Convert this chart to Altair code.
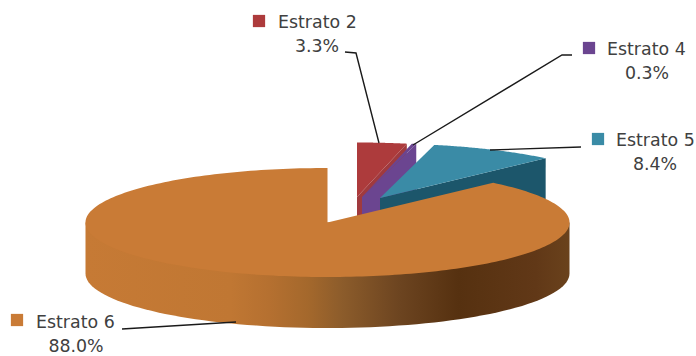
import numpy as np
import altair as alt

# Shares of each stratum, in percent, in clockwise drawing order
names = ["Estrato 2", "Estrato 4", "Estrato 5", "Estrato 6"]
shares = [3.3, 0.3, 8.4, 88.0]
share_labels = ["3.3%", "0.3%", "8.4%", "88.0%"]

# Pie geometry in page pixels
RX, RY, DEPTH = 242, 54.5, 51
APEX = {
    "Estrato 2": (357, 197),
    "Estrato 4": (362, 197),
    "Estrato 5": (380, 198),
    "Estrato 6": (327.5, 222.5),
}
TOP = {"Estrato 2": "#ad3b3c", "Estrato 4": "#6b4590", "Estrato 5": "#3a8ba6", "Estrato 6": "#c97b36"}
CUT = {"Estrato 2": "#a03a3e", "Estrato 4": "#6b4590", "Estrato 5": "#1c566b"}

# Legend and label layout
SWATCH = {"Estrato 2": (259, 21), "Estrato 4": (589, 48), "Estrato 5": (598, 139), "Estrato 6": (17, 320)}
NAME_POS = {"Estrato 2": (278, 23), "Estrato 4": (607, 50), "Estrato 5": (616, 141), "Estrato 6": (36, 323)}
VALUE_POS = {"Estrato 2": (317, 47), "Estrato 4": (647, 74), "Estrato 5": (655, 165), "Estrato 6": (76, 347)}
LEADERS = {
    "Estrato 2": [(345, 52), (356, 53), (379, 143)],
    "Estrato 4": [(572, 55), (562, 55), (413, 145)],
    "Estrato 5": [(581, 147), (490, 150)],
    "Estrato 6": [(122, 329), (236, 322)],
}

W, H = 696, 356
x_px = alt.Scale(domain=[0, W], range=[0, W], zero=False, nice=False)
y_px = alt.Scale(domain=[0, H], range=[0, H], zero=False, nice=False)
projection = alt.Projection(type="identity", scale=1, translate=[0, 0])


def rim(apex, a0, a1, n=80, drop=0):
    """Points along the elliptical rim, angles in degrees clockwise from twelve o'clock."""
    t = np.radians(np.linspace(a0, a1, n))
    return [[float(apex[0] + RX * np.sin(v)), float(apex[1] - RY * np.cos(v) + drop)] for v in t]


def shape(ring, **mark):
    ring = list(ring) + [ring[0]]
    feature = {"type": "Feature", "properties": {}, "geometry": {"type": "Polygon", "coordinates": [ring]}}
    return alt.Chart(alt.Data(values=[feature])).mark_geoshape(stroke=None, **mark).project(**projection.to_dict())


# Start and end angle of every slice, taken from its share
edges = np.concatenate([[0], np.cumsum(shares)]) * 3.6
span = {n: (float(edges[i]), float(edges[i + 1])) for i, n in enumerate(names)}

layers = []

# Pulled-out slices, back to front: cut face first, then top face
for n in names[:3]:
    a0, a1 = span[n]
    ax = APEX[n]
    end = rim(ax, a1, a1, 1)[0]
    cut = [list(ax), end, [end[0], end[1] + DEPTH], [ax[0], ax[1] + DEPTH]]
    layers.append(shape(cut, fill=CUT[n]))
    layers.append(shape([list(ax)] + rim(ax, a0, a1), fill=TOP[n]))

# Main slice: outer wall with a shaded sweep, running under the top face to avoid a seam
a0, a1 = span["Estrato 6"]
ax = APEX["Estrato 6"]
wall = [[ax[0] - RX, ax[1]], [ax[0] + RX, ax[1]]] + rim(ax, 90, 270, drop=DEPTH)
wall_fill = alt.Gradient(
    gradient="linear", x1=0, y1=0, x2=1, y2=0,
    stops=[
        alt.GradientStop(offset=0.00, color="#c67a35"),
        alt.GradientStop(offset=0.30, color="#c07733"),
        alt.GradientStop(offset=0.38, color="#b57030"),
        alt.GradientStop(offset=0.46, color="#a4682c"),
        alt.GradientStop(offset=0.53, color="#8c5c2b"),
        alt.GradientStop(offset=0.65, color="#6c4420"),
        alt.GradientStop(offset=0.77, color="#563110"),
        alt.GradientStop(offset=0.93, color="#613817"),
        alt.GradientStop(offset=1.00, color="#6a421c"),
    ],
)
layers.append(shape(wall, fill=wall_fill))
layers.append(shape([list(ax)] + rim(ax, a0, a1, 240), fill=TOP["Estrato 6"]))

# Leader lines
leader_rows = [
    {"key": n, "order": i, "px": p[0], "py": p[1]}
    for n in names for i, p in enumerate(LEADERS[n])
]
layers.append(
    alt.Chart(alt.Data(values=leader_rows)).mark_line(color="#1a1a1a", strokeWidth=1.4).encode(
        x=alt.X("px:Q", scale=x_px, axis=None),
        y=alt.Y("py:Q", scale=y_px, axis=None),
        detail="key:N",
        order="order:Q",
    )
)

# Legend swatches
swatch_rows = [{"key": n, "px": SWATCH[n][0], "py": SWATCH[n][1], "c": TOP[n]} for n in names]
layers.append(
    alt.Chart(alt.Data(values=swatch_rows)).mark_square(size=150, opacity=1).encode(
        x=alt.X("px:Q", scale=x_px, axis=None),
        y=alt.Y("py:Q", scale=y_px, axis=None),
        color=alt.Color("c:N", scale=None),
    )
)

# Category names and percentages
name_rows = [{"t": n, "px": NAME_POS[n][0], "py": NAME_POS[n][1]} for n in names]
value_rows = [{"t": l, "px": VALUE_POS[n][0], "py": VALUE_POS[n][1]} for n, l in zip(names, share_labels)]
text_style = dict(font="DejaVu Sans", fontSize=17.4, color="#404040", baseline="middle")
layers.append(
    alt.Chart(alt.Data(values=name_rows)).mark_text(align="left", **text_style).encode(
        x=alt.X("px:Q", scale=x_px, axis=None),
        y=alt.Y("py:Q", scale=y_px, axis=None),
        text="t:N",
    )
)
layers.append(
    alt.Chart(alt.Data(values=value_rows)).mark_text(align="center", **text_style).encode(
        x=alt.X("px:Q", scale=x_px, axis=None),
        y=alt.Y("py:Q", scale=y_px, axis=None),
        text="t:N",
    )
)

chart = (
    alt.layer(*layers)
    .properties(width=W, height=H, padding=0, background="white", autosize=alt.AutoSizeParams(type="none"))
    .configure_view(stroke=None)
)

chart.save("out.html", embed_options={"renderer": "svg", "actions": False})
